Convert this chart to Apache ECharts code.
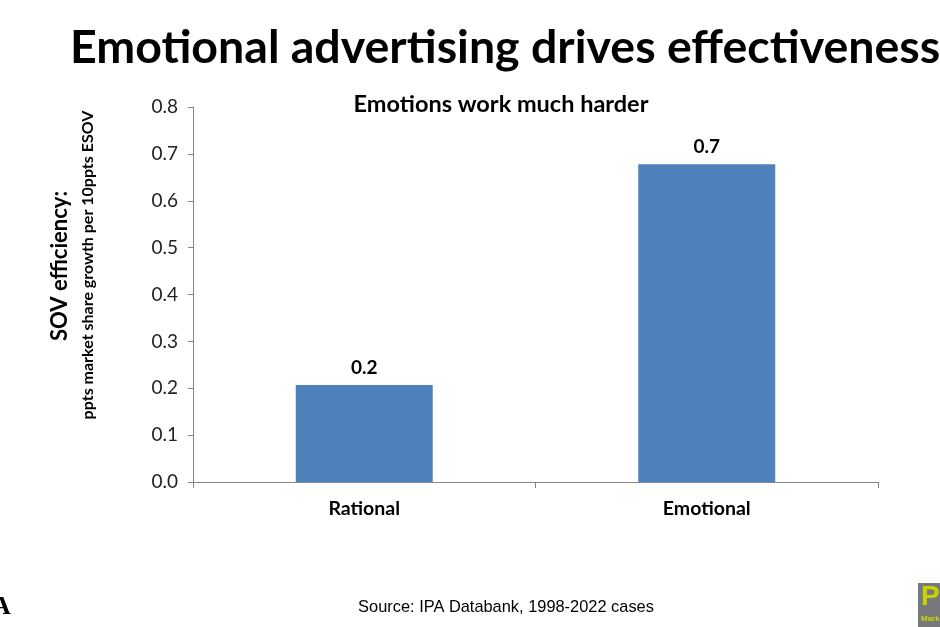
<!DOCTYPE html>
<html><head><meta charset="utf-8">
<script src="https://cdn.jsdelivr.net/npm/echarts@6/dist/echarts.min.js"></script>
<style>html,body{margin:0;padding:0;background:#fff}#c{width:940px;height:627px}</style>
</head><body><div id="c"></div>
<script>
const categories = ['Rational', 'Emotional'];
const values = [0.207, 0.678];
const valueLabels = ['0.2', '0.7'];

const chart = echarts.init(document.getElementById('c'));
chart.setOption({
  animation: false,
  backgroundColor: '#fff',
  grid: { left: 193, right: 62, top: 107, bottom: 145 },
  xAxis: {
    type: 'category', data: categories,
    axisLine: { lineStyle: { color: '#868686', width: 1 } },
    axisTick: { show: true, length: 6, lineStyle: { color: '#868686' } },
    axisLabel: { color: '#000', fontFamily: 'Lato', fontWeight: 'bold', fontSize: 19.5, margin: 17 }
  },
  yAxis: {
    type: 'value', min: 0, max: 0.8, interval: 0.1,
    axisLine: { show: true, lineStyle: { color: '#868686', width: 1 } },
    axisTick: { show: true, length: 5, lineStyle: { color: '#868686' } },
    splitLine: { show: false },
    axisLabel: { color: '#222', fontFamily: 'Lato', fontSize: 19, margin: 15,
      formatter: v => v.toFixed(1) }
  },
  series: [{
    type: 'bar', data: values, barWidth: '40%',
    itemStyle: { color: '#4F81BD' },
    label: { show: true, position: 'top', distance: 8, color: '#000', fontFamily: 'Lato',
      fontWeight: 'bold', fontSize: 19, formatter: p => valueLabels[p.dataIndex] }
  }],
  graphic: [
    { type: 'text', x: 70, y: 24, style: { text: 'Emotional advertising drives effectiveness',
      font: 'bold 46.5px Lato', fill: '#000' } },
    { type: 'text', x: 501, y: 104, style: { text: 'Emotions work much harder',
      font: 'bold 23.5px Lato', fill: '#000', align: 'center', verticalAlign: 'middle' } },
    { type: 'text', x: 60, y: 266, rotation: Math.PI / 2, style: { text: 'SOV efficiency:',
      font: 'bold 22px Lato', fill: '#000', align: 'center', verticalAlign: 'middle' } },
    { type: 'text', x: 88, y: 265, rotation: Math.PI / 2, style: { text: 'ppts market share growth per 10ppts ESOV',
      font: 'bold 16px Lato', fill: '#000', align: 'center', verticalAlign: 'middle' } },
    { type: 'text', x: 506, y: 607, style: { text: 'Source: IPA Databank, 1998-2022 cases',
      font: '16.4px "Liberation Sans"', fill: '#000', align: 'center', verticalAlign: 'middle' } },
    { type: 'text', x: -8, y: 594, style: { text: 'A', font: 'bold 26px "Liberation Serif"', fill: '#000' } },
    { type: 'rect', shape: { x: 918, y: 583, width: 30, height: 44 }, style: { fill: '#77787B' } },
    { type: 'text', x: 921, y: 583, style: { text: 'P', font: 'bold 28px "Liberation Sans"', fill: '#C8D400' } },
    { type: 'text', x: 921, y: 615, style: { text: 'Mark', font: 'bold 8px "Liberation Sans"', fill: '#C8D400' } }
  ]
});
</script></body></html>
